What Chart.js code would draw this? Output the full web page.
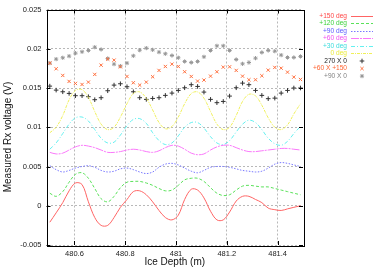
<!DOCTYPE html>
<html><head><meta charset="utf-8">
<script src="https://cdn.jsdelivr.net/npm/chart.js@4/dist/chart.umd.min.js"></script>
<style>html,body{margin:0;padding:0;background:#fff;}canvas{display:block;}</style>
</head><body>
<canvas id="c" width="382" height="267"></canvas>
<script>
const depths = [480.503,480.528,480.554,480.579,480.604,480.630,480.655,480.680,480.705,480.731,
480.756,480.781,480.807,480.832,480.857,480.883,480.908,480.933,480.958,480.984,
481.009,481.034,481.060,481.085,481.110,481.136,481.161,481.186,481.211,481.237,
481.262,481.287,481.313,481.338,481.363,481.389,481.414,481.439,481.464,481.490];
const deg150 = [-0.0021,-0.0009,0.0004,0.0019,0.0029,0.0027,0.0005,-0.0015,-0.0025,-0.0025,
-0.0015,-0.0002,0.0008,0.0018,0.0019,0.0014,0.0005,-0.0006,-0.0015,-0.0018,
-0.0012,0.0008,0.0021,0.0020,0.0010,-0.0007,-0.0018,-0.0018,-0.0008,0.0006,
0.0012,0.0012,0.0008,0.0004,-0.0003,-0.0005,-0.0006,-0.0004,-0.0002,0.0000];
const deg120 = [0.0016,0.0012,0.0018,0.0030,0.0040,0.0042,0.0035,0.0022,0.0009,0.0005,
0.0012,0.0023,0.0030,0.0031,0.0031,0.0029,0.0026,0.0022,0.0019,0.0020,
0.0026,0.0033,0.0035,0.0035,0.0031,0.0023,0.0016,0.0013,0.0014,0.0020,
0.0025,0.0026,0.0025,0.0024,0.0024,0.0022,0.0020,0.0018,0.0016,0.0014];
const deg90 = [0.0051,0.0046,0.0043,0.0045,0.0048,0.0050,0.0051,0.0049,0.0045,0.0043,
0.0044,0.0047,0.0048,0.0046,0.0043,0.0041,0.0043,0.0049,0.0053,0.0054,
0.0052,0.0048,0.0044,0.0042,0.0045,0.0049,0.0050,0.0050,0.0049,0.0047,
0.0045,0.0044,0.0043,0.0044,0.0048,0.0053,0.0055,0.0054,0.0052,0.0050];
const deg60 = [0.0068,0.0066,0.0067,0.0071,0.0075,0.0077,0.0076,0.0074,0.0071,0.0068,
0.0068,0.0069,0.0071,0.0072,0.0071,0.0069,0.0068,0.0070,0.0074,0.0077,
0.0076,0.0072,0.0067,0.0065,0.0066,0.0071,0.0075,0.0077,0.0077,0.0074,
0.0071,0.0069,0.0069,0.0070,0.0071,0.0072,0.0073,0.0073,0.0072,0.0071];
const deg30 = [0.0072,0.0080,0.0092,0.0104,0.0112,0.0113,0.0108,0.0097,0.0086,0.0080,
0.0081,0.0090,0.0102,0.0110,0.0111,0.0105,0.0093,0.0083,0.0078,0.0080,
0.0089,0.0100,0.0106,0.0106,0.0099,0.0088,0.0080,0.0078,0.0083,0.0094,
0.0104,0.0109,0.0106,0.0097,0.0086,0.0079,0.0077,0.0082,0.0092,0.0101];
const deg0 = [0.0093,0.0100,0.0115,0.0135,0.0147,0.0148,0.0138,0.0120,0.0104,0.0097,
0.0100,0.0113,0.0130,0.0143,0.0145,0.0137,0.0122,0.0106,0.0098,0.0101,
0.0113,0.0130,0.0143,0.0145,0.0137,0.0120,0.0104,0.0097,0.0100,0.0115,
0.0133,0.0142,0.0140,0.0128,0.0112,0.0100,0.0097,0.0103,0.0117,0.0130];
const x270x0 = [0.01524,0.01473,0.01452,0.01431,0.01402,0.01402,0.01389,0.01351,0.01376,0.01465,
0.01537,0.01554,0.01516,0.01452,0.01376,0.01355,0.01367,0.01376,0.01406,0.01435,
0.01469,0.01503,0.01542,0.01520,0.01448,0.01355,0.01313,0.01329,0.01397,0.01503,
0.01562,0.01542,0.01469,0.01406,0.01364,0.01371,0.01435,0.01469,0.01500,0.01500];
const x60x150 = [0.01817,0.01745,0.01660,0.01584,0.01558,0.01545,0.01575,0.01673,0.01791,0.01868,
0.01855,0.01770,0.01647,0.01567,0.01537,0.01575,0.01643,0.01724,0.01774,0.01804,
0.01774,0.01707,0.01647,0.01588,0.01601,0.01651,0.01707,0.01766,0.01770,0.01724,
0.01651,0.01605,0.01605,0.01656,0.01728,0.01762,0.01753,0.01702,0.01639,0.01609];
const x90x0 = [0.01817,0.01868,0.01885,0.01906,0.01944,0.01961,0.01978,0.02020,0.01991,0.01876,
0.01804,0.01779,0.01817,0.01910,0.01982,0.02008,0.01986,0.01957,0.01936,0.01914,
0.01885,0.01838,0.01825,0.01838,0.01897,0.01978,0.02037,0.02037,0.01978,0.01863,
0.01808,0.01825,0.01880,0.01953,0.01978,0.01969,0.01919,0.01889,0.01889,0.01902];
const xTicks = [480.6, 480.8, 481.0, 481.2, 481.4];
const xTickLabels = ['480.6','480.8','481','481.2','481.4'];
const yTicks = [-0.005, 0, 0.005, 0.01, 0.015, 0.02, 0.025];
const yTickLabels = ['-0.005','0','0.005','0.01','0.015','0.02','0.025'];
const seriesNames = ['+150 deg','+120 deg','+90 deg','+60 deg','+30 deg','0 deg','270 X 0','+60 X +150','+90 X 0'];
const yTitle = 'Measured Rx voltage (V)';
const xTitle = 'Ice Depth (m)';

const FONT = '"Liberation Sans", Arial, sans-serif';
const pts = arr => arr.map((v,i)=>({x:depths[i], y:v}));
const lineDs = (label, arr, color, dash) => ({label, data: pts(arr), borderColor: color, backgroundColor: color,
  borderWidth: 1, borderDash: dash, pointRadius: 0, tension: 0.35, fill: false, showLine: true});
const markDs = (label, arr, color, style, r) => ({label, data: pts(arr), borderColor: color, backgroundColor: color,
  borderWidth: 1, pointStyle: style, pointRadius: r, showLine: false});

const datasets = [
  lineDs(seriesNames[0], deg150, 'rgb(255,100,100)', []),
  lineDs(seriesNames[1], deg120, 'rgb(90,225,90)', [3,2]),
  lineDs(seriesNames[2], deg90, 'rgb(120,120,255)', [1.5,1.5]),
  lineDs(seriesNames[3], deg60, 'rgb(250,120,250)', [8,1,2,1]),
  lineDs(seriesNames[4], deg30, 'rgb(100,240,240)', [4,2,1,2]),
  lineDs(seriesNames[5], deg0, 'rgb(240,240,90)', [3,1,1,1]),
  markDs(seriesNames[6], x270x0, 'rgb(50,50,50)', 'cross', 2.3),
  markDs(seriesNames[7], x60x150, 'rgb(255,110,60)', 'crossRot', 2.3),
  markDs(seriesNames[8], x90x0, 'rgb(150,150,150)', 'star', 2.1),
];
const legendText = ['rgb(255,70,70)','rgb(60,210,60)','rgb(90,90,255)','rgb(240,80,240)','rgb(60,220,220)','rgb(235,235,60)','rgb(30,30,30)','rgb(255,100,50)','rgb(130,130,130)'];

const framePlugin = {
  id: 'frame',
  afterDraw(chart) {
    const ctx = chart.ctx, a = chart.chartArea;
    const xs = chart.scales.x, ys = chart.scales.y;
    ctx.save();
    ctx.strokeStyle = '#000'; ctx.lineWidth = 1;
    ctx.strokeRect(Math.round(a.left)+0.5, Math.round(a.top)+0.5, Math.round(a.right-a.left), Math.round(a.bottom-a.top));
    ctx.beginPath();
    xTicks.forEach(v => { const px = Math.round(xs.getPixelForValue(v))+0.5;
      ctx.moveTo(px, a.bottom); ctx.lineTo(px, a.bottom-4);
      ctx.moveTo(px, a.top); ctx.lineTo(px, a.top+4); });
    yTicks.forEach(v => { const py = Math.round(ys.getPixelForValue(v))+0.5;
      ctx.moveTo(a.left, py); ctx.lineTo(a.left+4, py);
      ctx.moveTo(a.right, py); ctx.lineTo(a.right-4, py); });
    ctx.stroke();
    // axis titles
    ctx.fillStyle = '#111';
    ctx.font = '10px ' + FONT;
    ctx.textAlign = 'center'; ctx.textBaseline = 'middle';
    ctx.fillText(xTitle, (a.left + a.right)/2, 262);
    ctx.save();
    ctx.translate(8, 137);
    ctx.rotate(-Math.PI/2);
    ctx.fillText(yTitle, 0, 0);
    ctx.restore();
    // legend
    ctx.font = '6.6px ' + FONT;
    ctx.textAlign = 'right'; ctx.textBaseline = 'middle';
    chart.data.datasets.forEach((ds, i) => {
      const y = 15.7 + i*7.55;
      ctx.fillStyle = legendText[i];
      ctx.fillText(ds.label, 347, y);
      ctx.strokeStyle = ds.borderColor; ctx.lineWidth = 1;
      if (ds.showLine) {
        ctx.setLineDash(ds.borderDash || []);
        ctx.beginPath(); ctx.moveTo(351, Math.round(y)+0.5); ctx.lineTo(373, Math.round(y)+0.5); ctx.stroke();
        ctx.setLineDash([]);
      } else {
        Chart.helpers.drawPoint(ctx, {pointStyle: ds.pointStyle, radius: ds.pointRadius, rotation: 0, borderWidth: 1}, 362, y);
      }
    });
    ctx.restore();
  }
};

new Chart(document.getElementById('c'), {
  type: 'line',
  data: { datasets },
  options: {
    responsive: false, animation: false, devicePixelRatio: 1,
    layout: { padding: { left: 0, right: 79, top: 9, bottom: 0 } },
    plugins: { legend: { display: false }, tooltip: { enabled: false } },
    scales: {
      x: {
        type: 'linear', min: 480.49, max: 481.5,
        afterBuildTicks: s => { s.ticks = xTicks.map(v => ({value: v})); },
        afterFit: s => { s.height = 22; },
        ticks: { color: '#222', font: { size: 7.5, family: FONT }, padding: 4,
          callback: (v) => xTickLabels[xTicks.findIndex(t => Math.abs(t - v) < 1e-6)] ?? '' , maxRotation: 0, autoSkip: false},
        grid: { color: '#b8b8b8', lineWidth: 1, drawTicks: false },
        border: { display: false, dash: [2,2] },
        title: { display: false }
      },
      y: {
        type: 'linear', min: -0.005, max: 0.025,
        afterBuildTicks: s => { s.ticks = yTicks.map(v => ({value: v})); },
        afterFit: s => { s.width = 46.5; },
        ticks: { color: '#222', font: { size: 7.5, family: FONT }, padding: 5,
          callback: (v) => yTickLabels[yTicks.findIndex(t => Math.abs(t - v) < 1e-9)] ?? '', autoSkip: false },
        grid: { color: '#b8b8b8', lineWidth: 1, drawTicks: false },
        border: { display: false, dash: [2,2] },
        title: { display: false }
      }
    }
  },
  plugins: [framePlugin]
});
</script>
</body></html>
